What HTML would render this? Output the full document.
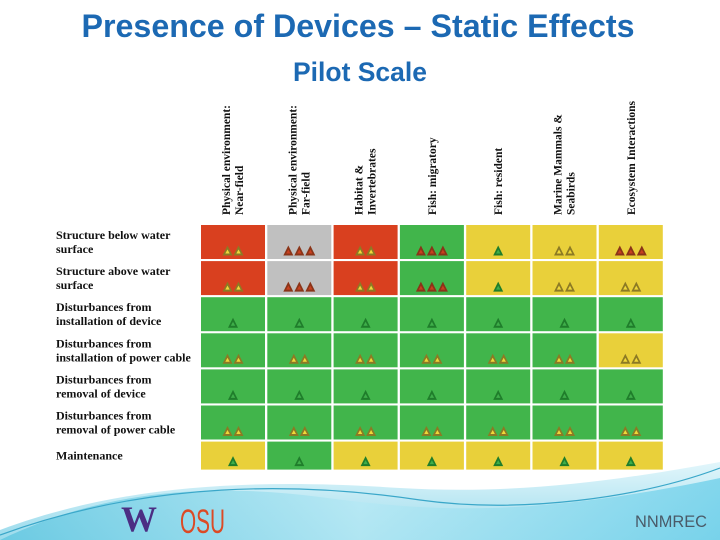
<!DOCTYPE html>
<html><head><meta charset="utf-8"><style>
html,body{margin:0;padding:0;background:#fff}
svg{display:block}
</style></head><body>
<svg id="c" width="720" height="540" viewBox="0 0 720 540" xmlns="http://www.w3.org/2000/svg">
<defs>
<linearGradient id="wave" x1="0" y1="0" x2="1" y2="0">
<stop offset="0" stop-color="#5fc6e0"/><stop offset="0.5" stop-color="#b5e8f4"/><stop offset="1" stop-color="#6fd0ea"/>
</linearGradient>
<linearGradient id="wave2" x1="0" y1="0" x2="0" y2="1">
<stop offset="0" stop-color="#e2f6fb"/><stop offset="1" stop-color="#9adbec"/>
</linearGradient>
</defs>
<rect x="0" y="0" width="720" height="540" fill="#fff"/>
<g>
<path d="M0,530 C120,485 250,478 400,488 C520,495 620,480 720,462 L720,540 L0,540 Z" fill="url(#wave2)"/>
<path d="M0,540 C100,492 200,482 320,497 C420,510 520,520 720,478 L720,540 Z" fill="url(#wave)" opacity="0.8"/>
<path d="M0,535 C150,480 300,482 420,500 C520,514 640,498 720,468" fill="none" stroke="#3aa7c9" stroke-width="1.2"/>
</g>
<text x="358" y="37" text-anchor="middle" font-family="Liberation Sans, sans-serif" font-weight="bold" font-size="32" fill="#1c69b3" textLength="553" lengthAdjust="spacingAndGlyphs">Presence of Devices – Static Effects</text>
<text x="360" y="81" text-anchor="middle" font-family="Liberation Sans, sans-serif" font-weight="bold" font-size="27" fill="#1c69b3" textLength="134" lengthAdjust="spacingAndGlyphs">Pilot Scale</text>
<g id="grid"></g>
<text x="121" y="531" font-family="Liberation Serif, serif" font-weight="bold" font-size="36" fill="#4b2e83">W</text>
<text x="180" y="533" font-family="Liberation Sans, sans-serif" font-size="34" fill="#dc4a25" textLength="45" lengthAdjust="spacingAndGlyphs">OSU</text>
<text x="707" y="527" text-anchor="end" font-family="Liberation Sans, sans-serif" font-size="17" fill="#4a5a68" textLength="72" lengthAdjust="spacingAndGlyphs">NNMREC</text>
</svg>
<script>
const columns=[["Physical environment:","Near-field"],["Physical environment:","Far-field"],["Habitat &","Invertebrates"],["Fish: migratory"],["Fish: resident"],["Marine Mammals &","Seabirds"],["Ecosystem Interactions"]];
const rows=[["Structure below water","surface"],["Structure above water","surface"],["Disturbances from","installation of device"],["Disturbances from","installation of power cable"],["Disturbances from","removal of device"],["Disturbances from","removal of power cable"],["Maintenance"]];
const cellColors=[
["R","G0","R","G","Y","Y","Y"],
["R","G0","R","G","Y","Y","Y"],
["G","G","G","G","G","G","G"],
["G","G","G","G","G","G","Y"],
["G","G","G","G","G","G","G"],
["G","G","G","G","G","G","G"],
["Y","G","Y","Y","Y","Y","Y"]];
const levels=[
[2,3,2,3,1,2,3],
[2,3,2,3,1,2,2],
[1,1,1,1,1,1,1],
[2,2,2,2,2,2,2],
[1,1,1,1,1,1,1],
[2,2,2,2,2,2,2],
[1,1,1,1,1,1,1]];
const NS="http://www.w3.org/2000/svg";
const fills={R:"#d9401f",G0:"#c0c0c0",G:"#41b54b",Y:"#e9d03a"};
const triOuter={1:"#1f7d2b",2:"#8c7a24",3:"#8a3418"};
const triInner={1:"#3fae4a",2:"#f0d83a",3:"#c9401f"};
const g=document.getElementById('grid');
const X0=201,PX=66.3,CW=64,Y0=225,PY=36.1,CH=34;
const colX=i=>X0+i*PX, rowY=j=>Y0+j*PY;
function mk(t,a){const e=document.createElementNS(NS,t);for(const k in a)e.setAttribute(k,a[k]);return e;}
columns.forEach((lines,i)=>{
  const cx=colX(i)+CW/2;
  const t=mk('g',{});
  
  
  lines.forEach((s,k)=>{
    const off=lines.length===1?4:(k===0?-3:10);
    const x=cx+off;
    const tx=mk('text',{x:0,y:0,transform:`translate(${x},215) rotate(-90)`,'font-family':'Liberation Serif, serif','font-size':'11.5','font-weight':'bold',fill:'#111'});
    tx.textContent=s;
    t.appendChild(tx);
  });
  g.appendChild(t);
});
rows.forEach((lines,j)=>{
  const y=rowY(j);
  const t=mk('g',{});
  
  
  lines.forEach((s,k)=>{
    const yy=lines.length===1?y+18:y+14+k*14;
    const tx=mk('text',{x:56,y:yy,'font-family':'Liberation Serif, serif','font-size':'12','font-weight':'bold',fill:'#111'});
    tx.textContent=s;
    t.appendChild(tx);
  });
  g.appendChild(t);
  const h=j===rows.length-1?28:CH;
  columns.forEach((c,i)=>{
    const x=colX(i);
    const r=mk('rect',{x:x,y:y,width:CW,height:h,fill:fills[cellColors[j][i]]});
    
    
    g.appendChild(r);
    const n=levels[j][i];
    const cx=x+CW/2, by=y+h-3.5, w=10, th=10;
    for(let m=0;m<n;m++){
      const tcx=cx+(m-(n-1)/2)*11;
      const p=mk('polygon',{points:`${tcx-w/2},${by} ${tcx+w/2},${by} ${tcx},${by-th}`,fill:triOuter[n]});
      
      
      g.appendChild(p);
      const d=mk('polygon',{points:`${tcx-2.2},${by-2} ${tcx+2.2},${by-2} ${tcx},${by-6}`,fill:triInner[n]});
      g.appendChild(d);
    }
  });
});
</script>
</body></html>
